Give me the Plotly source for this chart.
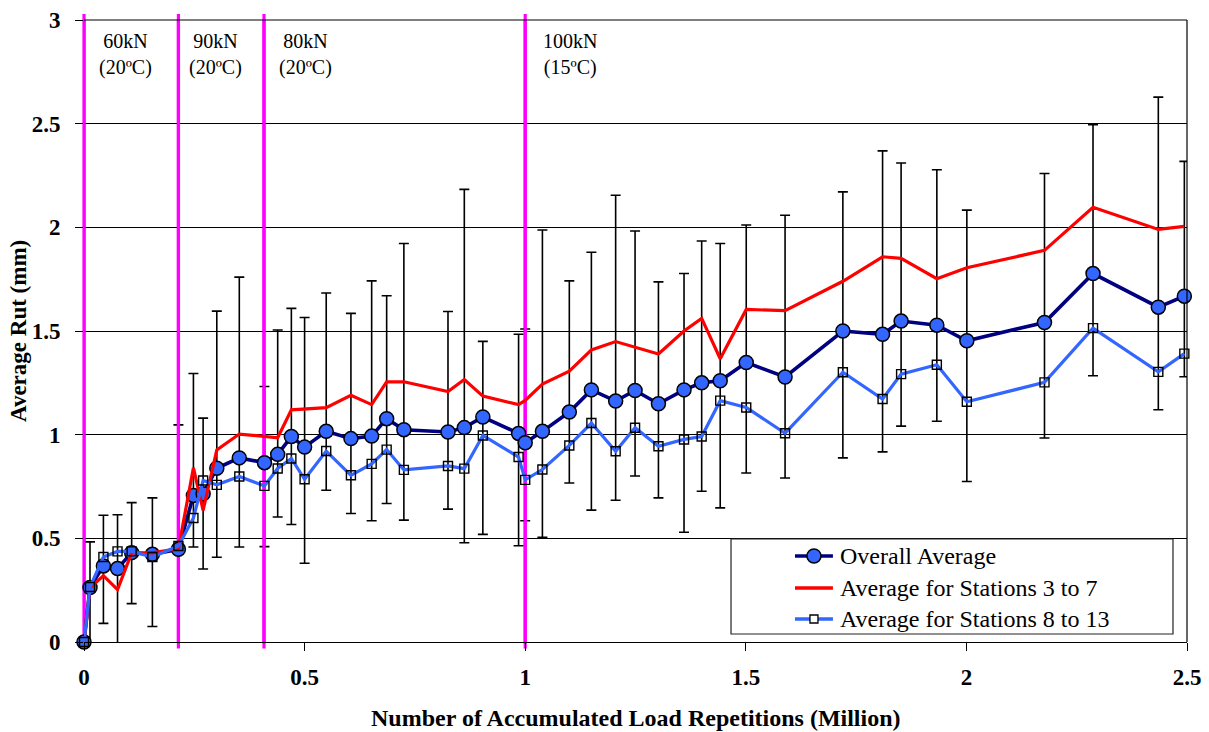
import plotly.graph_objects as go

# ---- data ----
reps = [0.0, 0.0136, 0.044, 0.076, 0.108, 0.155, 0.214, 0.248, 0.27, 0.301,
        0.352, 0.409, 0.439, 0.47, 0.5, 0.549, 0.605, 0.652, 0.686, 0.725,
        0.825, 0.862, 0.904, 0.985, 1.0, 1.039, 1.1, 1.15, 1.205, 1.249,
        1.302, 1.36, 1.4, 1.442, 1.501, 1.589, 1.72, 1.81, 1.852, 1.933,
        2.001, 2.177, 2.287, 2.435, 2.494]

overall_avg = [0.0, 0.263, 0.367, 0.354, 0.431, 0.423, 0.447, 0.707, 0.715, 0.838,
               0.888, 0.865, 0.905, 0.991, 0.94, 1.016, 0.981, 0.993, 1.077, 1.024,
               1.013, 1.034, 1.085, 1.006, 0.961, 1.016, 1.109, 1.216, 1.162, 1.213,
               1.149, 1.216, 1.25, 1.26, 1.348, 1.278, 1.5, 1.484, 1.548, 1.528,
               1.453, 1.541, 1.777, 1.615, 1.668]

avg_st3_7 = [0.0, 0.26, 0.32, 0.253, 0.43, 0.43, 0.45, 0.84, 0.635, 0.926,
             1.003, 0.99, 0.985, 1.12, 1.125, 1.13, 1.19, 1.145, 1.255, 1.255,
             1.208, 1.266, 1.186, 1.145, 1.165, 1.244, 1.306, 1.409, 1.449, 1.421,
             1.389, 1.5, 1.561, 1.366, 1.604, 1.598, 1.74, 1.858, 1.85, 1.752,
             1.805, 1.889, 2.097, 1.99, 2.005]

avg_st8_13 = [0.0, 0.265, 0.41, 0.437, 0.437, 0.41, 0.463, 0.598, 0.779, 0.758,
              0.798, 0.753, 0.837, 0.885, 0.785, 0.921, 0.804, 0.859, 0.928, 0.83,
              0.849, 0.836, 0.996, 0.892, 0.782, 0.832, 0.948, 1.056, 0.92, 1.033,
              0.944, 0.977, 0.991, 1.164, 1.131, 1.007, 1.301, 1.172, 1.292, 1.337,
              1.159, 1.252, 1.514, 1.303, 1.391]

err_top = [None, 0.483, 0.611, 0.614, 0.672, 0.695, 1.047, 1.295, 1.08, 1.596,
           1.76, 1.232, 1.505, 1.609, 1.565, 1.683, 1.585, 1.742, 1.67, 1.922,
           1.594, 2.183, 1.45, 1.484, 1.51, 1.987, 1.742, 1.88, 2.155, 1.982,
           1.737, 1.777, 1.934, 1.922, 2.011, 2.058, 2.171, 2.369, 2.31, 2.278,
           2.083, 2.26, 2.495, 2.628, 2.318]

err_bottom = [None, -0.05, 0.09, -0.05, 0.185, 0.075, -0.15, 0.458, 0.352, 0.409,
              0.458, 0.46, 0.603, 0.567, 0.38, 0.732, 0.62, 0.585, 0.668, 0.588,
              0.641, 0.479, 0.519, 0.464, 0.585, 0.505, 0.767, 0.636, 0.684, 0.801,
              0.695, 0.529, 0.727, 0.647, 0.815, 0.791, 0.888, 0.917, 1.041, 1.065,
              0.774, 0.984, 1.284, 1.12, 1.279]

phase_x = [0.0, 0.214, 0.408, 1.0]
phase_label_x = [0.095, 0.297, 0.501, 1.102]
phase_labels = ["60kN<br>(20ºC)", "90kN<br>(20ºC)", "80kN<br>(20ºC)", "100kN<br>(15ºC)"]

series_names = ["Overall Average", "Average for Stations 3 to 7", "Average for Stations 8 to 13"]

x_ticks = [0, 0.5, 1, 1.5, 2, 2.5]
y_ticks = [0, 0.5, 1, 1.5, 2, 2.5, 3]

x_title = "Number of Accumulated Load Repetitions (Million)"
y_title = "Average Rut (mm)"

X_RANGE = [0, 2.5]
Y_RANGE = [0, 3]

FONT = "Liberation Serif"
NAVY = "#000080"
RED = "#FF0000"
BLUE = "#3366FF"
MAGENTA = "#FF00FF"

err_plus = [None if t is None else t - y for t, y in zip(err_top, overall_avg)]
err_minus = [None if b is None else y - b for b, y in zip(err_bottom, overall_avg)]


def x_to_paper(v):
    return (v - X_RANGE[0]) / (X_RANGE[1] - X_RANGE[0])


fig = go.Figure()

# error bars (separate trace so they stay clipped to the plot area)
fig.add_trace(go.Scatter(
    x=reps, y=overall_avg, mode="markers",
    marker=dict(size=1, color="rgba(0,0,0,0)"),
    error_y=dict(type="data", symmetric=False, array=err_plus, arrayminus=err_minus,
                 color="black", thickness=1.6, width=5),
    showlegend=False, hoverinfo="skip"))

# phase boundaries drawn over the error bars but under the series
for px in phase_x:
    fig.add_trace(go.Scatter(
        x=[px, px], y=Y_RANGE, mode="lines", line=dict(color=MAGENTA, width=3.2),
        showlegend=False, hoverinfo="skip"))

fig.add_trace(go.Scatter(
    x=reps, y=overall_avg, mode="lines+markers", name=series_names[0],
    line=dict(color=NAVY, width=3.6),
    marker=dict(symbol="circle", size=14, color=BLUE,
                line=dict(color="black", width=1.5)),
    cliponaxis=False, showlegend=False))

fig.add_trace(go.Scatter(
    x=reps, y=avg_st3_7, mode="lines", name=series_names[1],
    line=dict(color=RED, width=3.2),
    cliponaxis=False, showlegend=False))

fig.add_trace(go.Scatter(
    x=reps, y=avg_st8_13, mode="lines+markers", name=series_names[2],
    line=dict(color=BLUE, width=3.2),
    marker=dict(symbol="square-open", size=9, color="black",
                line=dict(color="black", width=1.4)),
    cliponaxis=False, showlegend=False))

shapes = []
for px in phase_x:
    xp = x_to_paper(px)
    shapes.append(dict(type="line", xref="paper", yref="paper", x0=xp, x1=xp,
                       y0=-0.0105, y1=1.0095, layer="below",
                       line=dict(color=MAGENTA, width=3.2)))
# top and right border
shapes.append(dict(type="line", xref="paper", yref="paper", x0=0, x1=1, y0=1, y1=1,
                   line=dict(color="black", width=1.2)))
shapes.append(dict(type="line", xref="paper", yref="paper", x0=1, x1=1, y0=0, y1=1,
                   line=dict(color="black", width=1.2)))
# legend frame
shapes.append(dict(type="rect", xref="paper", yref="paper", x0=0.5866, x1=0.9873,
                   y0=0.0129, y1=0.1656, line=dict(color="#222222", width=1.2),
                   fillcolor="rgba(255,255,255,0)", layer="above"))

# legend samples (drawn manually so the row spacing matches)
leg_rows = [0.1383, 0.0868, 0.0370]
leg_x0, leg_x1, leg_xm, leg_text_x = 0.6446, 0.6790, 0.6618, 0.6840
leg_colors = [NAVY, RED, BLUE]
for ry, col in zip(leg_rows, leg_colors):
    shapes.append(dict(type="line", xref="paper", yref="paper", x0=leg_x0, x1=leg_x1,
                       y0=ry, y1=ry, layer="above", line=dict(color=col, width=3.5)))
shapes.append(dict(type="circle", xref="paper", yref="paper", xsizemode="pixel",
                   ysizemode="pixel", xanchor=leg_xm, yanchor=leg_rows[0],
                   x0=-7, x1=7, y0=-7, y1=7, layer="above", fillcolor=BLUE,
                   line=dict(color="black", width=1.5)))
shapes.append(dict(type="rect", xref="paper", yref="paper", xsizemode="pixel",
                   ysizemode="pixel", xanchor=leg_xm, yanchor=leg_rows[2],
                   x0=-4, x1=4, y0=-4, y1=4, layer="above", fillcolor="white",
                   line=dict(color="black", width=1.3)))

annotations = []
for lx, lt in zip(phase_label_x, phase_labels):
    annotations.append(dict(x=lx, y=2.835, xref="x", yref="y", text=lt,
                            showarrow=False, align="center",
                            font=dict(family=FONT, size=20, color="black"),
                            xanchor="center", yanchor="middle"))
for ry, name in zip(leg_rows, series_names):
    annotations.append(dict(x=leg_text_x, y=ry, xref="paper", yref="paper", text=name,
                            showarrow=False, xanchor="left", yanchor="middle",
                            font=dict(family=FONT, size=24, color="black")))
annotations.append(dict(x=0.5, y=0, xref="paper", yref="paper", text=x_title,
                        showarrow=False, xanchor="center", yanchor="middle", yshift=-76,
                        font=dict(family=FONT, size=24, color="black", weight="bold")))
annotations.append(dict(x=0, y=0.5, xref="paper", yref="paper", text=y_title,
                        showarrow=False, xanchor="center", yanchor="middle", xshift=-66,
                        textangle=-90,
                        font=dict(family=FONT, size=23, color="black", weight="bold")))

fig.update_layout(
    width=1209, height=732,
    margin=dict(l=84, r=22, t=20, b=90, autoexpand=False),
    paper_bgcolor="white", plot_bgcolor="white",
    font=dict(family=FONT, color="black"),
    shapes=shapes, annotations=annotations,
    showlegend=False,
    xaxis=dict(range=X_RANGE, tickvals=x_ticks, ticktext=[str(v) for v in x_ticks],
               showgrid=False, zeroline=False, showline=True, linecolor="black",
               linewidth=1.2, ticks="outside", ticklen=8, tickcolor="black",
               tickfont=dict(family=FONT, size=23, color="black", weight="bold"),
               ticklabelstandoff=6, automargin=False),
    yaxis=dict(range=Y_RANGE, tickvals=y_ticks, ticktext=[str(v) for v in y_ticks],
               showgrid=True, gridcolor="black", gridwidth=1.1, zeroline=False,
               showline=False, ticks="outside", ticklen=8, tickcolor="black",
               tickfont=dict(family=FONT, size=23, color="black", weight="bold"),
               ticklabelstandoff=10, automargin=False),
)

fig.write_html("out.html")
